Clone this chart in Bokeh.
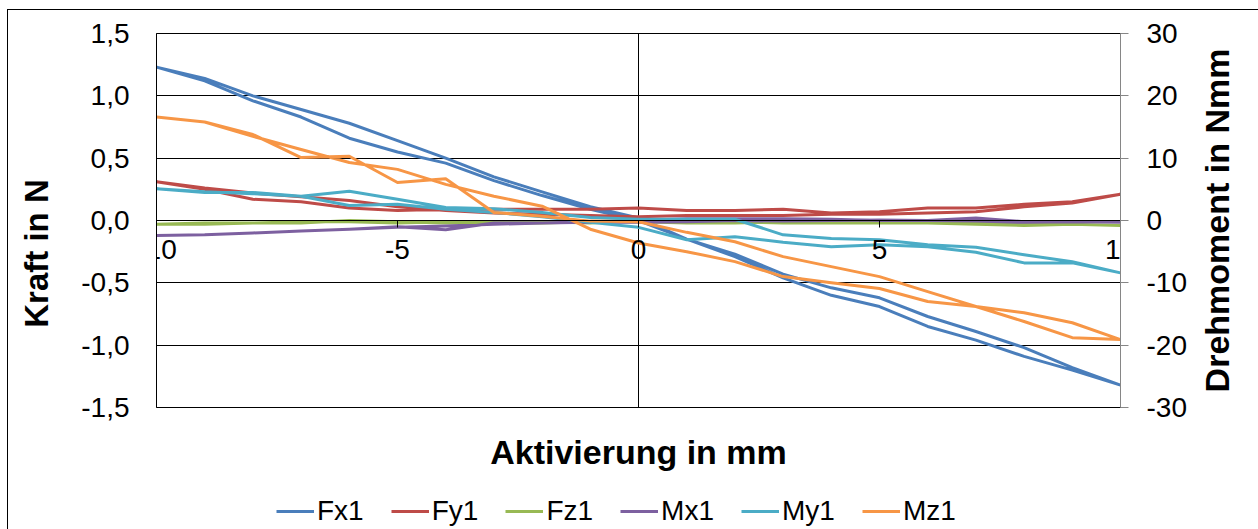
from bokeh.plotting import figure
from bokeh.layouts import row, column
from bokeh.models import (Range1d, LinearAxis, FixedTicker, CustomJSTickFormatter, Span,
                          Title, Legend, LegendItem, Spacer)
from bokeh.embed import file_html
from bokeh.resources import INLINE

# ---------------- data ----------------
x_mm = [-10, -9, -8, -7, -6, -5, -4, -3, -2, -1, 0, 1, 2, 3, 4, 5, 6, 7, 8, 9, 10]

# forces [N] (left axis) - two sweeps each
fx1_a = [1.23, 1.14, 1.00, 0.89, 0.78, 0.64, 0.50, 0.35, 0.23, 0.11, 0.02, -0.15, -0.27, -0.43, -0.54, -0.62, -0.77, -0.89, -1.02, -1.18, -1.32]
fx1_b = [1.23, 1.12, 0.96, 0.83, 0.66, 0.55, 0.46, 0.32, 0.20, 0.09, 0.00, -0.15, -0.29, -0.46, -0.60, -0.69, -0.85, -0.96, -1.09, -1.20, -1.32]
fy1_a = [0.31, 0.25, 0.17, 0.15, 0.10, 0.08, 0.09, 0.09, 0.09, 0.09, 0.10, 0.08, 0.08, 0.09, 0.06, 0.07, 0.10, 0.10, 0.13, 0.15, 0.21]
fy1_b = [0.31, 0.26, 0.22, 0.19, 0.16, 0.11, 0.08, 0.06, 0.05, 0.04, 0.03, 0.04, 0.04, 0.04, 0.05, 0.05, 0.06, 0.07, 0.11, 0.14, 0.21]
fz1_a = [-0.03, -0.03, -0.02, -0.02, 0.00, -0.01, -0.02, -0.02, -0.02, -0.01, -0.01, -0.02, -0.02, -0.01, -0.01, -0.01, -0.02, -0.03, -0.04, -0.03, -0.04]
fz1_b = [-0.03, -0.02, -0.02, -0.01, -0.01, -0.02, -0.01, -0.01, -0.01, -0.02, 0.00, -0.01, -0.01, -0.02, -0.02, -0.02, -0.02, -0.02, -0.03, -0.03, -0.04]

# moments [Nmm] (right axis) - two sweeps each
mx1_a = [-2.4, -2.3, -2.0, -1.7, -1.4, -1.1, -0.9, -0.6, -0.4, -0.2, 0.0, 0.3, 0.3, 0.3, 0.2, 0.0, 0.0, 0.4, -0.2, -0.2, -0.3]
mx1_b = [-2.4, -2.3, -2.0, -1.7, -1.4, -1.0, -1.5, -0.4, -0.4, -0.3, -0.3, -0.2, 0.0, -0.1, 0.0, 0.1, 0.0, -0.1, -0.3, -0.2, -0.3]
my1_a = [5.1, 4.5, 4.5, 3.9, 4.7, 3.4, 2.1, 1.9, 1.3, 0.5, 0.2, 0.2, 0.2, -2.3, -2.9, -3.1, -3.9, -4.3, -5.5, -6.6, -8.4]
my1_b = [5.1, 4.6, 4.3, 3.9, 2.4, 2.6, 1.8, 1.3, 0.6, -0.3, -1.1, -3.1, -2.6, -3.5, -4.2, -3.9, -4.2, -5.1, -6.8, -6.8, -8.4]
mz1_a = [16.6, 15.8, 13.8, 10.1, 10.3, 6.1, 6.7, 1.3, 0.7, -0.1, -0.2, -1.9, -3.4, -5.8, -7.4, -9.0, -11.4, -13.8, -16.2, -18.8, -19.1]
mz1_b = [16.6, 15.8, 13.5, 11.4, 9.3, 8.2, 5.8, 3.9, 2.3, -1.4, -3.6, -5.0, -6.6, -9.0, -10.0, -10.9, -13.0, -13.8, -14.8, -16.4, -19.1]

series_names = ["Fx1", "Fy1", "Fz1", "Mx1", "My1", "Mz1"]
x_ticks = [-10, -5, 0, 5, 10]
left_ticks = [-1.5, -1.0, -0.5, 0.0, 0.5, 1.0, 1.5]
right_ticks = [-30, -20, -10, 0, 10, 20, 30]
x_title = "Aktivierung in mm"
left_title = "Kraft in N"
right_title = "Drehmoment in Nmm"

# ---------------- styling ----------------
FONT = "Liberation Sans"
colors = ["#4A7EBB", "#BE4B48", "#98B954", "#7D60A0", "#4BACC6", "#F79646"]
LW = 3

PAD_W, LSIDE_W, MAIN_W, RSIDE_W = 13, 55, 1125, 65
MAIN_H, LEG_H = 494, 35
TOP, BOTTOM = 33, 87
LSHIFT = 33


def bare(fig):
    fig.outline_line_color = None
    fig.grid.visible = False
    fig.border_fill_alpha = 0
    fig.background_fill_alpha = 0


p = figure(width=MAIN_W, height=MAIN_H, output_backend="svg", toolbar_location=None,
           x_range=Range1d(-10, 10), y_range=Range1d(-1.5, 1.5),
           min_border_left=88, min_border_right=73, min_border_top=TOP, min_border_bottom=BOTTOM)
p.extra_y_ranges = {"m": Range1d(-30, 30)}
p.background_fill_color = "white"
p.border_fill_alpha = 0
p.outline_line_color = "black"
p.outline_line_width = 1

# grid
p.xgrid.visible = False
p.ygrid.ticker = FixedTicker(ticks=left_ticks)
p.ygrid.grid_line_color = "black"
p.ygrid.grid_line_width = 1

# zero vertical line
p.add_layout(Span(location=0, dimension="height", line_color="black", line_width=1, level="underlay"))

int_fmt = "return tick.toFixed(0)"

# x axis through y=0
xa = p.xaxis[0]
xa.ticker = FixedTicker(ticks=x_ticks)
xa.formatter = CustomJSTickFormatter(code=int_fmt)
xa.fixed_location = 0
xa.axis_line_color = "black"
xa.major_tick_line_color = "black"
xa.major_tick_out = 7
xa.major_tick_in = 0
xa.minor_tick_line_color = None
xa.major_label_text_font = FONT
xa.major_label_text_font_size = "28px"
xa.major_label_text_color = "black"
xa.major_label_standoff = 12

# left axis
ya = p.yaxis[0]
ya.ticker = FixedTicker(ticks=left_ticks)
ya.formatter = CustomJSTickFormatter(code="return tick.toFixed(1).replace('.', ',')")
ya.axis_line_color = "black"
ya.major_tick_line_color = None
ya.major_tick_out = 0
ya.major_tick_in = 0
ya.minor_tick_line_color = None
ya.major_label_text_font = FONT
ya.major_label_text_font_size = "28px"
ya.major_label_text_color = "black"
ya.major_label_standoff = 27

# right axis
ra = LinearAxis(y_range_name="m", ticker=FixedTicker(ticks=right_ticks),
                formatter=CustomJSTickFormatter(code=int_fmt))
ra.axis_line_color = "#868686"
ra.major_tick_line_color = "#868686"
ra.major_tick_out = 8
ra.major_tick_in = 0
ra.minor_tick_line_color = None
ra.major_label_text_font = FONT
ra.major_label_text_font_size = "28px"
ra.major_label_text_color = "black"
ra.major_label_standoff = 18
p.add_layout(ra, "right")

# series
force_data = [(fx1_a, fx1_b), (fy1_a, fy1_b), (fz1_a, fz1_b)]
moment_data = [(mx1_a, mx1_b), (my1_a, my1_b), (mz1_a, mz1_b)]
xs = x_mm + x_mm[::-1]
for i, (a, b) in enumerate(force_data):
    p.line(xs, a + b[::-1], line_color=colors[i], line_width=LW, line_join="round")
for j, (a, b) in enumerate(moment_data):
    p.line(xs, a + b[::-1], line_color=colors[3 + j], line_width=LW, line_join="round",
           y_range_name="m")

p.add_layout(Title(text=x_title, align="center", text_font=FONT, text_font_size="34px",
                   text_font_style="bold", text_color="black", standoff=46), "below")

# left side figure carrying the left title (shifted down by a spacer)
lside_h = MAIN_H - LSHIFT
lside = figure(width=LSIDE_W, height=lside_h, output_backend="svg", toolbar_location=None,
               x_axis_location=None, y_axis_location=None,
               min_border_left=0, min_border_right=0, min_border_top=TOP,
               min_border_bottom=lside_h - TOP - (MAIN_H - TOP - BOTTOM))
bare(lside)
lside.add_layout(Title(text=left_title, align="center", text_font=FONT, text_font_size="33px",
                       text_font_style="bold", text_color="black", standoff=4), "left")
lcol = column(Spacer(width=LSIDE_W, height=LSHIFT), lside)

# right side figure carrying the right title (reads bottom-to-top)
rside = figure(width=RSIDE_W, height=MAIN_H, output_backend="svg", toolbar_location=None,
               x_axis_location=None, y_axis_location=None,
               min_border_left=0, min_border_right=0, min_border_top=TOP, min_border_bottom=BOTTOM)
bare(rside)
rside.add_layout(Title(text=right_title, align="center", text_font=FONT, text_font_size="34px",
                       text_font_style="bold", text_color="black", standoff=4), "left")

# legend strip
leg = figure(width=PAD_W + LSIDE_W + MAIN_W + RSIDE_W, height=LEG_H, output_backend="svg",
             toolbar_location=None, x_axis_location=None, y_axis_location=None,
             x_range=Range1d(0, 1), y_range=Range1d(0, 1),
             min_border_left=0, min_border_right=0, min_border_top=0, min_border_bottom=0)
bare(leg)
items = []
for n, c in zip(series_names, colors):
    r = leg.line(x=[float("nan")], y=[float("nan")], line_color=c, line_width=LW)
    items.append(LegendItem(label=n, renderers=[r]))
legend = Legend(items=items, orientation="horizontal", location=(276, 2),
                label_text_font=FONT, label_text_font_size="28px", label_text_color="black",
                glyph_width=38, glyph_height=20, label_standoff=3, spacing=27,
                padding=0, margin=0, border_line_alpha=0, background_fill_alpha=0)
leg.add_layout(legend)

pad = Spacer(width=PAD_W, height=MAIN_H)
layout = column(row(pad, lcol, p, rside), leg)
layout.styles = {
    "background": "linear-gradient(#000, #000) 7px 9px / 1px 100% no-repeat, "
                  "linear-gradient(#000, #000) 7px 9px / 100% 1px no-repeat, #fff"
}
open("out.html", "w").write(file_html(layout, INLINE))
